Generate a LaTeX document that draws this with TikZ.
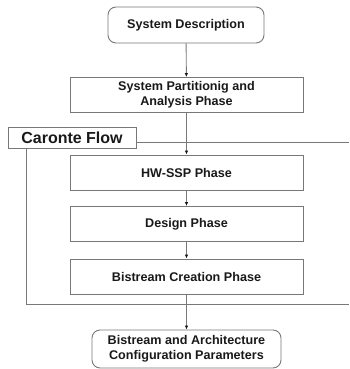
\documentclass[tikz,border=0pt]{standalone}
\usepackage{fontspec}
\setmainfont{Liberation Sans}
\usetikzlibrary{arrows.meta}

\definecolor{linegray}{RGB}{120,120,120}
\definecolor{textgray}{RGB}{25,25,25}

\tikzset{
  phase/.style={draw=linegray,line width=0.9pt,minimum width=233pt,minimum height=35pt,
    inner sep=0pt,align=center,text=textgray,font=\bfseries\fontsize{12.6}{15}\selectfont},
  term/.style={phase,rounded corners=8pt},
  flow/.style={draw=linegray,line width=0.9pt,-{Latex[length=4pt,width=3.5pt,color=textgray]}},
}

\begin{document}
\begin{tikzpicture}[x=1pt,y=-1pt]
\useasboundingbox (0,0) rectangle (349,369);
% terminals and phases
\node[term,minimum width=156pt,minimum height=36pt] (sysdesc) at (186,25) {System Description};
\node[phase] (partition) at (186.5,95) {System Partitionig and\\Analysis Phase};
\node[phase] (hwssp) at (186.5,172.5) {HW-SSP Phase};
\node[phase] (design) at (186.5,224) {Design Phase};
\node[phase] (bitgen) at (186.5,276.5) {Bistream Creation Phase};
\node[term,minimum width=189pt,minimum height=38pt] (params) at (186.5,349) {Bistream and Architecture\\Configuration Parameters};
% caronte frame
\node[draw=linegray,line width=0.9pt,minimum width=128pt,minimum height=21pt,inner sep=0pt,
  text=textgray,font=\bfseries\fontsize{16}{18}\selectfont] (caronte) at (72,137.5) {Caronte Flow};
\coordinate (frametr) at (349,142);
\coordinate (framebr) at (349,304);
\draw[linegray,line width=0.9pt] (caronte.east |- frametr) -- (frametr);
\draw[linegray,line width=0.9pt] (caronte.south -| 26,0) |- (framebr);
% connectors
\draw[flow] (sysdesc) -- (partition);
\draw[flow] (partition) -- (hwssp);
\draw[flow] (hwssp) -- (design);
\draw[flow] (design) -- (bitgen);
\draw[flow] (bitgen) -- (params);
\end{tikzpicture}
\end{document}
